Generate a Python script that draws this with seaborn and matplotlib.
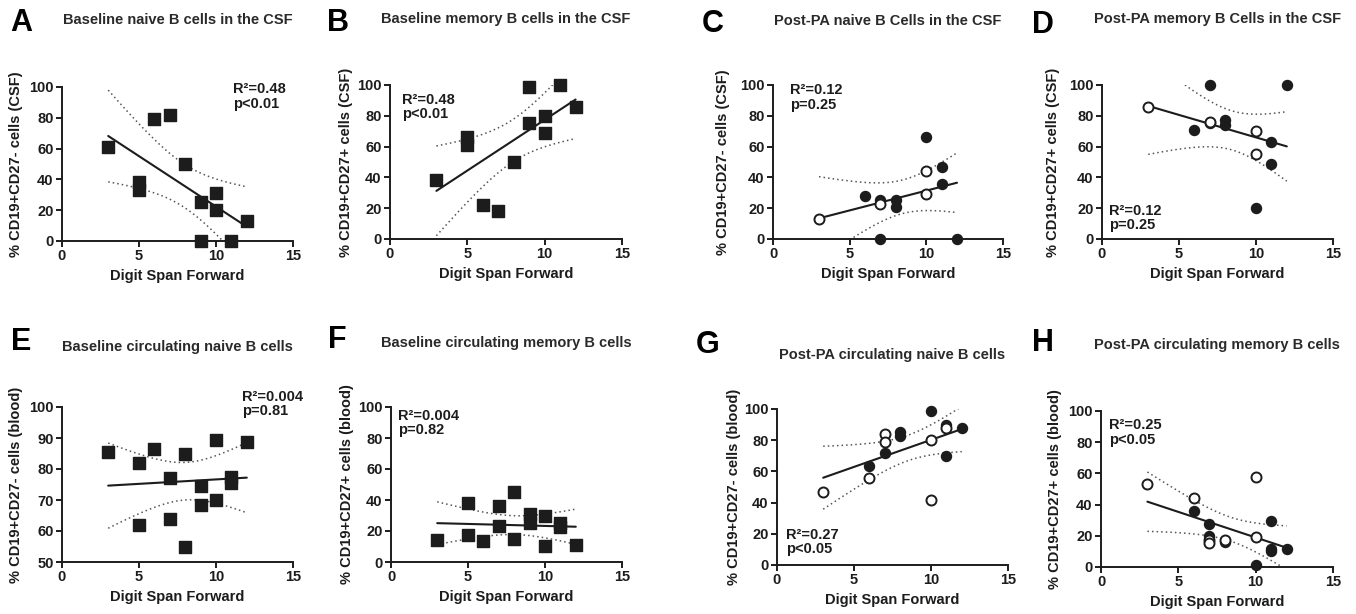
import numpy as np
import pandas as pd
import matplotlib
matplotlib.use("Agg")
import matplotlib.pyplot as plt
import seaborn as sns

# ---- data (x = digit span forward, y = % cells) ----
# A  baseline naive B cells, CSF
a_x = [3, 5, 5, 6, 7, 8, 9, 9, 10, 10, 11, 12]
a_y = [61, 38, 33, 79, 82, 50, 25, 0, 31, 20, 0, 13]
# B  baseline memory B cells, CSF
b_x = [3, 5, 5, 6, 7, 8, 9, 9, 10, 10, 11, 12]
b_y = [38, 66, 61, 22, 18, 50, 99, 75, 80, 69, 100, 86]
# C  post-PA naive B cells, CSF (hollow = open circles)
c_x = [3, 6, 7, 7, 7, 8, 8, 10, 10, 10, 11, 11, 12]
c_y = [13, 28, 25, 23, 0, 25, 21, 66, 44, 29, 47, 36, 0]
c_hollow = [1, 0, 0, 1, 0, 0, 0, 0, 1, 1, 0, 0, 0]
# D  post-PA memory B cells, CSF
d_x = [3, 6, 7, 7, 7, 8, 8, 10, 10, 10, 11, 11, 12]
d_y = [86, 71, 100, 76, 75, 77, 74, 70, 55, 20, 63, 49, 100]
d_hollow = [1, 0, 0, 1, 0, 0, 0, 1, 1, 0, 0, 0, 0]
# E  baseline circulating naive B cells
e_x = [3, 5, 5, 6, 7, 7, 8, 8, 9, 9, 10, 10, 11, 11, 12]
e_y = [85.5, 82, 62, 86.5, 77, 64, 85, 55, 74.5, 68.5, 89.5, 70, 77.5, 75.5, 88.8]
# F  baseline circulating memory B cells
f_x = [3, 5, 5, 6, 7, 7, 8, 8, 9, 9, 10, 10, 11, 11, 12]
f_y = [14, 38, 17.5, 13.5, 36, 23, 45, 15, 31, 25, 29.5, 10.5, 25, 22.5, 11]
# G  post-PA circulating naive B cells
g_x = [3, 6, 6, 7, 7, 7, 8, 8, 10, 10, 10, 11, 11, 11, 12]
g_y = [46.5, 56, 63.5, 84, 79, 71.5, 85, 82.5, 98.5, 80, 41.5, 89.5, 88, 70, 88]
g_hollow = [1, 1, 0, 1, 1, 0, 0, 0, 0, 1, 1, 0, 1, 0, 0]
# H  post-PA circulating memory B cells
h_x = [3, 6, 6, 7, 7, 7, 7, 8, 8, 10, 10, 10, 11, 11, 11, 12]
h_y = [53, 44, 36, 27.5, 20, 17.5, 15.5, 17.5, 16, 57.5, 19.5, 1, 29.5, 11.5, 10.5, 11.5]
h_hollow = [1, 1, 0, 0, 0, 1, 1, 1, 0, 1, 1, 0, 0, 0, 0, 0]

letters = ["A", "B", "C", "D", "E", "F", "G", "H"]
titles = [
    "Baseline naive B cells in the CSF",
    "Baseline memory B cells in the CSF",
    "Post-PA naive B Cells in the CSF",
    "Post-PA memory B Cells in the CSF",
    "Baseline circulating naive B cells",
    "Baseline circulating memory B cells",
    "Post-PA circulating naive B cells",
    "Post-PA circulating memory B cells",
]
ylabels = [
    "% CD19+CD27- cells (CSF)",
    "% CD19+CD27+ cells (CSF)",
    "% CD19+CD27- cells (CSF)",
    "% CD19+CD27+ cells (CSF)",
    "% CD19+CD27- cells (blood)",
    "% CD19+CD27+ cells (blood)",
    "% CD19+CD27- cells (blood)",
    "% CD19+CD27+ cells (blood)",
]
stats = [
    "R²=0.48\np<0.01", "R²=0.48\np<0.01", "R²=0.12\np=0.25", "R²=0.12\np=0.25",
    "R²=0.004\np=0.81", "R²=0.004\np=0.82", "R²=0.27\np<0.05", "R²=0.25\np<0.05",
]
xticks = [0, 5, 10, 15]

# two-sided 95% t critical values by degrees of freedom
T_CRIT = {9: 2.262, 10: 2.228, 11: 2.201, 12: 2.179, 13: 2.160, 14: 2.145, 15: 2.131}

# ---- layout in pixels: left, top, right, bottom of each axes box ----
W, H = 1356, 614
boxes = [
    (62, 87, 293, 241), (390, 85, 622, 239), (773, 85, 1003, 239), (1102, 85, 1333, 239),
    (62, 407, 293, 562), (391, 407, 622, 562), (777, 409, 1008, 565), (1101, 411, 1333, 567),
]
letter_pos = [(21, 23), (338, 23), (713, 24), (1043, 25), (21, 342), (337, 340), (708, 345), (1043, 343)]
title_y = [20, 19, 21, 19, 347, 343, 355, 345]
ylabel_dx = [-39, -37, -43, -42, -39, -37, -36, -39]
stat_pos = [(11.1, 103), (0.8, 95), (1.1, 101), (0.45, 23), (11.7, 105.5), (0.45, 99), (0.6, 24), (0.5, 95.5)]

sns.set_style("ticks")
plt.rcParams["font.family"] = ["Liberation Sans", "DejaVu Sans"]
plt.rcParams["font.weight"] = "bold"
plt.rcParams["axes.labelweight"] = "bold"
INK = "#1c1c1c"


def conf_band(x, y, xs):
    x = np.asarray(x, float)
    y = np.asarray(y, float)
    n = len(x)
    slope, icpt = np.polyfit(x, y, 1)
    resid = y - (slope * x + icpt)
    s = np.sqrt(np.sum(resid ** 2) / (n - 2))
    sxx = np.sum((x - x.mean()) ** 2)
    se = s * np.sqrt(1 / n + (xs - x.mean()) ** 2 / sxx)
    fit = slope * xs + icpt
    t = T_CRIT[n - 2]
    return fit - t * se, fit + t * se


def draw_panel(ax, x, y, hollow, marker):
    df = pd.DataFrame({"x": x, "y": y, "hollow": hollow})
    xs = np.linspace(min(x), max(x), 100)
    lo, hi = conf_band(x, y, xs)
    ax.plot(xs, lo, ls=(0, (1, 2)), color="#555555", lw=1.1)
    ax.plot(xs, hi, ls=(0, (1, 2)), color="#555555", lw=1.1)
    sns.regplot(data=df, x="x", y="y", scatter=False, ci=None, truncate=True,
                color=INK, line_kws={"lw": 1.5}, ax=ax)
    size = 66 if marker == "s" else 52
    sns.scatterplot(data=df[df.hollow == 0], x="x", y="y", marker=marker, s=size,
                    color=INK, edgecolor=INK, linewidth=1, ax=ax, clip_on=False, zorder=4)
    if df.hollow.any():
        sns.scatterplot(data=df[df.hollow == 1], x="x", y="y", marker="o", s=size,
                        facecolor="white", edgecolor=INK, linewidth=1.4, ax=ax,
                        clip_on=False, zorder=5)


panels = [
    (a_x, a_y, [0] * len(a_x), "s"),
    (b_x, b_y, [0] * len(b_x), "s"),
    (c_x, c_y, c_hollow, "o"),
    (d_x, d_y, d_hollow, "o"),
    (e_x, e_y, [0] * len(e_x), "s"),
    (f_x, f_y, [0] * len(f_x), "s"),
    (g_x, g_y, g_hollow, "o"),
    (h_x, h_y, h_hollow, "o"),
]

fig = plt.figure(figsize=(W / 100, H / 100), dpi=100)

for i, (x, y, hollow, marker) in enumerate(panels):
    l, t, r, b = boxes[i]
    ax = fig.add_axes([l / W, 1 - b / H, (r - l) / W, (b - t) / H])
    draw_panel(ax, x, y, hollow, marker)

    ax.set_xlim(0, 15)
    ax.set_xticks(xticks)
    if i == 4:
        ax.set_ylim(50, 100)
        ax.set_yticks(range(50, 101, 10))
    else:
        ax.set_ylim(0, 100)
        ax.set_yticks(range(0, 101, 20))
    sns.despine(ax=ax)
    for sp in ("left", "bottom"):
        ax.spines[sp].set_linewidth(1.4)
        ax.spines[sp].set_color(INK)
    ax.tick_params(length=4.5, width=1.4, color=INK, labelsize=10.5, labelcolor=INK, pad=1.5)
    for lab in ax.get_xticklabels() + ax.get_yticklabels():
        lab.set_fontweight("bold")

    ax.set_xlabel("Digit Span Forward", fontsize=10.5, color=INK, labelpad=4)
    ax.set_ylabel(ylabels[i], fontsize=10.5, color=INK)
    ax.yaxis.set_label_coords(ylabel_dx[i] / (r - l), 0.5)

    sx, sy = stat_pos[i]
    ax.text(sx, sy, stats[i], fontsize=10.5, fontweight="bold", color=INK,
            va="top", ha="left", linespacing=1.05, clip_on=False)

    fig.text((l + r) / 2 / W, 1 - title_y[i] / H, titles[i], fontsize=10.5,
             fontweight="bold", color="#2a2a2a", ha="center", va="center")
    lx, ly = letter_pos[i]
    fig.text(lx / W, 1 - ly / H, letters[i], fontsize=22, fontweight="bold",
             color="black", ha="center", va="center")

fig.savefig("out.png", dpi=100)
